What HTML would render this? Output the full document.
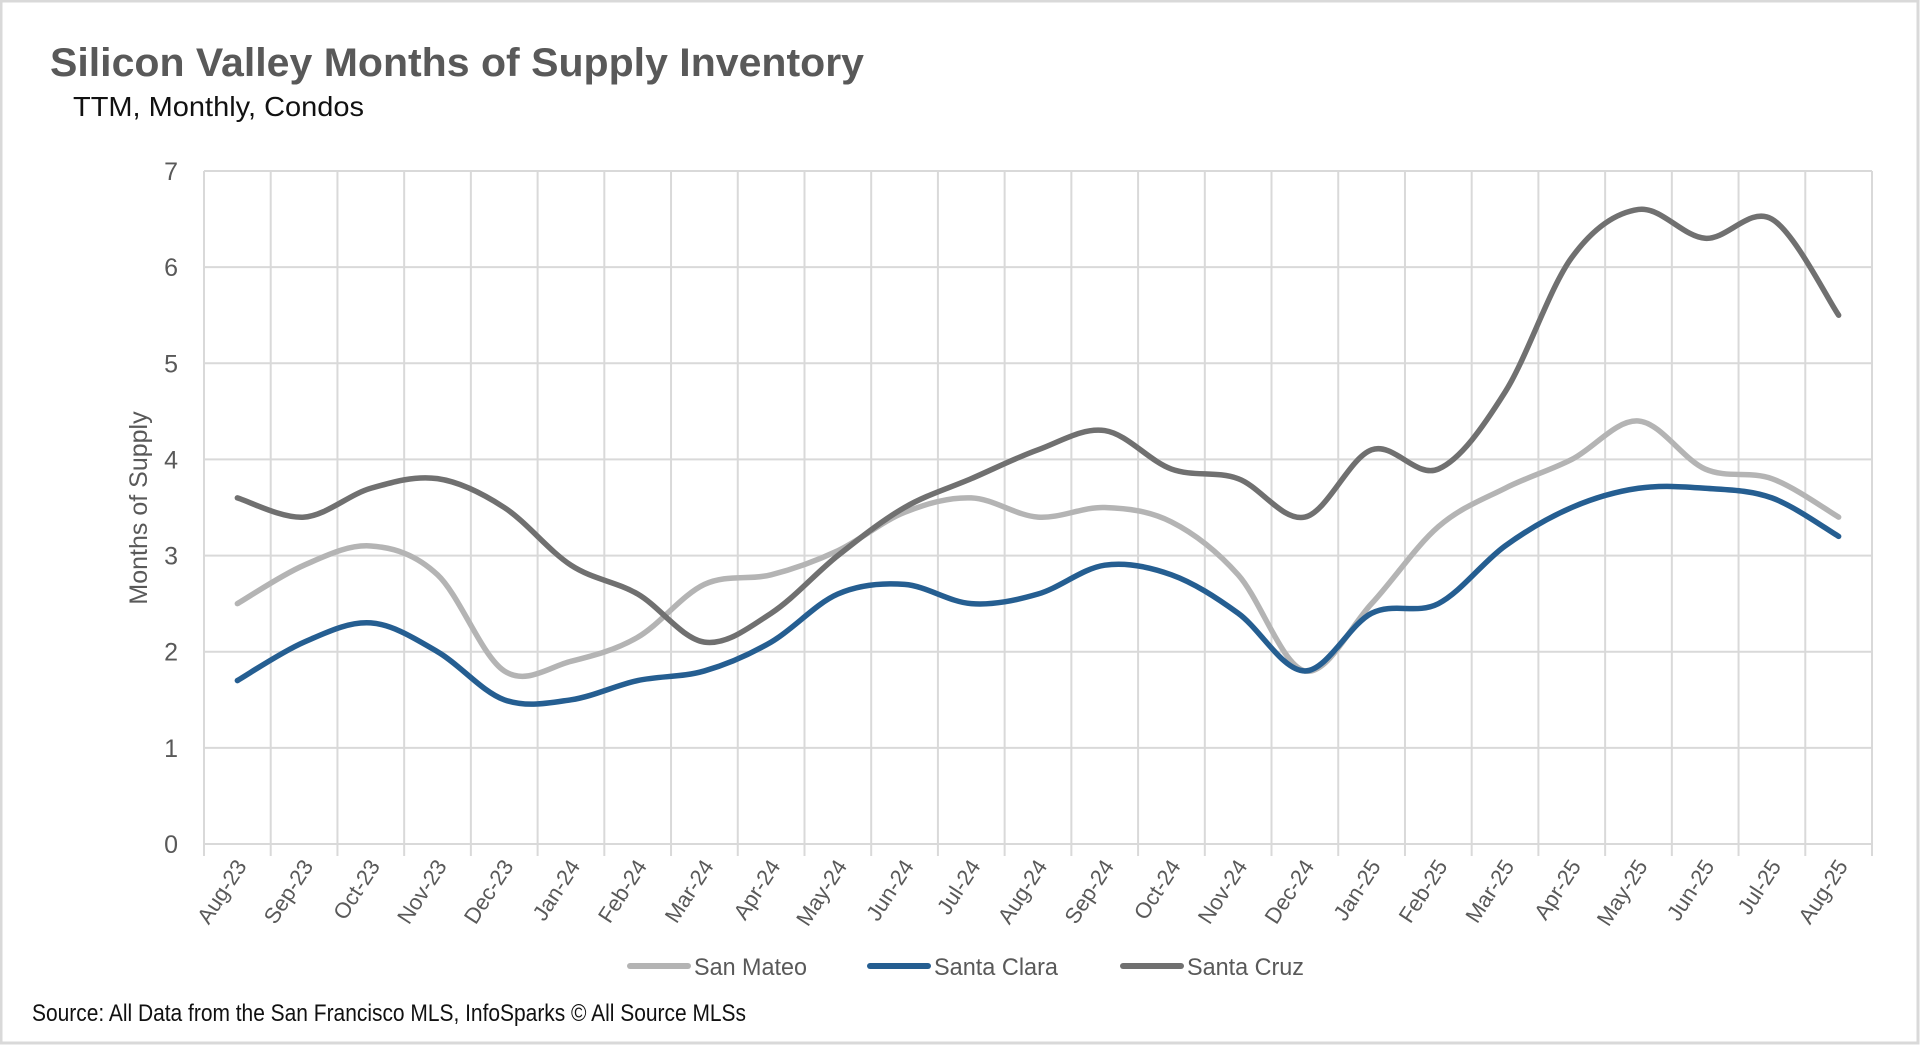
<!DOCTYPE html>
<html><head><meta charset="utf-8"><title>Silicon Valley Months of Supply Inventory</title>
<style>html,body{margin:0;padding:0;background:#fff;}svg{display:block;}</style></head>
<body>
<svg id="chart" width="1920" height="1046" viewBox="0 0 1920 1046" xmlns="http://www.w3.org/2000/svg" font-family="Liberation Sans, sans-serif">
<rect x="1" y="1" width="1917" height="1042" fill="#fff" stroke="#d9d9d9" stroke-width="3"/>
<text x="50" y="76" font-size="40" font-weight="bold" fill="#595959" textLength="814" lengthAdjust="spacingAndGlyphs">Silicon Valley Months of Supply Inventory</text>
<text x="73" y="116" font-size="28" fill="#111" textLength="291" lengthAdjust="spacingAndGlyphs">TTM, Monthly, Condos</text>
<g id="grid"></g>
<g id="yticks"></g>
<g id="xticks"></g>
<g id="series"></g>
<text x="0" y="0" font-size="25" fill="#595959" text-anchor="middle" transform="translate(147,508) rotate(-90)">Months of Supply</text>
<g>
  <g>
    <line x1="630" y1="966" x2="688" y2="966" stroke="#b4b4b4" stroke-width="6" stroke-linecap="round"/>
    <text x="694" y="975" font-size="24" fill="#595959" textLength="113" lengthAdjust="spacingAndGlyphs">San Mateo</text>
  </g>
  <g>
    <line x1="870" y1="966" x2="928" y2="966" stroke="#255e91" stroke-width="6" stroke-linecap="round"/>
    <text x="934" y="975" font-size="24" fill="#595959" textLength="124" lengthAdjust="spacingAndGlyphs">Santa Clara</text>
  </g>
  <g>
    <line x1="1123" y1="966" x2="1181" y2="966" stroke="#707070" stroke-width="6" stroke-linecap="round"/>
    <text x="1187" y="975" font-size="24" fill="#595959" textLength="117" lengthAdjust="spacingAndGlyphs">Santa Cruz</text>
  </g>
</g>
<text x="32" y="1021" font-size="24" fill="#111" textLength="714" lengthAdjust="spacingAndGlyphs">Source: All Data from the San Francisco MLS, InfoSparks © All Source MLSs</text>
</svg>
<script>
const categories = ["Aug-23","Sep-23","Oct-23","Nov-23","Dec-23","Jan-24","Feb-24","Mar-24","Apr-24","May-24","Jun-24","Jul-24","Aug-24","Sep-24","Oct-24","Nov-24","Dec-24","Jan-25","Feb-25","Mar-25","Apr-25","May-25","Jun-25","Jul-25","Aug-25"];
const sanMateo = [2.5,2.9,3.1,2.8,1.8,1.9,2.15,2.7,2.8,3.05,3.45,3.6,3.4,3.5,3.35,2.8,1.8,2.5,3.3,3.7,4.0,4.4,3.9,3.8,3.4];
const santaClara = [1.7,2.1,2.3,2.0,1.5,1.5,1.7,1.8,2.1,2.6,2.7,2.5,2.6,2.9,2.8,2.4,1.8,2.4,2.5,3.1,3.5,3.7,3.7,3.6,3.2];
const santaCruz = [3.6,3.4,3.7,3.8,3.5,2.9,2.6,2.1,2.4,3.0,3.5,3.8,4.1,4.3,3.9,3.8,3.4,4.1,3.9,4.7,6.1,6.6,6.3,6.5,5.5];
const yTicks = [0,1,2,3,4,5,6,7];

const NS = "http://www.w3.org/2000/svg";
const L = 204, R = 1872, T = 171, B = 844, YMAX = 7;
const bw = (R - L) / categories.length;
const xPos = i => L + bw * (i + 0.5);
const yPos = v => B - (v / YMAX) * (B - T);
function mk(tag, attrs, parent) {
  const e = document.createElementNS(NS, tag);
  for (const k in attrs) e.setAttribute(k, attrs[k]);
  parent.appendChild(e);
  return e;
}
const grid = document.getElementById('grid');
const yt = document.getElementById('yticks');
const xt = document.getElementById('xticks');
const ser = document.getElementById('series');

yTicks.forEach(v => {
  const ln = mk('line', {x1: L, x2: R, y1: yPos(v), y2: yPos(v), stroke: '#d9d9d9', 'stroke-width': 2}, grid);
  
  
  const t = mk('text', {x: 178, y: yPos(v) + 9, 'font-size': 25, fill: '#595959', 'text-anchor': 'end'}, yt);
  t.textContent = v;
  
  
});
for (let i = 0; i <= categories.length; i++) {
  const x = L + bw * i;
  const ln = mk('line', {x1: x, x2: x, y1: T, y2: B + 12, stroke: '#d9d9d9', 'stroke-width': 2}, grid);
  
  
}
categories.forEach((c, i) => {
  const x = xPos(i) + 10, y = 866;
  const t = mk('text', {x: x, y: y, 'font-size': 22, fill: '#595959', 'text-anchor': 'end', transform: `rotate(-57 ${x} ${y})`}, xt);
  t.textContent = c;
  
  
});
function smoothPath(vals) {
  const p = vals.map((v, i) => [xPos(i), yPos(v)]);
  let d = `M${p[0][0]},${p[0][1]}`;
  for (let i = 0; i < p.length - 1; i++) {
    const p0 = p[i - 1] || p[i], p1 = p[i], p2 = p[i + 1], p3 = p[i + 2] || p2;
    const c1 = [p1[0] + (p2[0] - p0[0]) / 6, p1[1] + (p2[1] - p0[1]) / 6];
    const c2 = [p2[0] - (p3[0] - p1[0]) / 6, p2[1] - (p3[1] - p1[1]) / 6];
    d += ` C${c1[0]},${c1[1]} ${c2[0]},${c2[1]} ${p2[0]},${p2[1]}`;
  }
  return d;
}
[[sanMateo, '#b4b4b4', 'san-mateo-line'], [santaClara, '#255e91', 'santa-clara-line'], [santaCruz, '#707070', 'santa-cruz-line']].forEach(s => {
  const path = mk('path', {d: smoothPath(s[0]), fill: 'none', stroke: s[1], 'stroke-width': 5.5, 'stroke-linecap': 'round', 'stroke-linejoin': 'round'}, ser);
  
  
});
</script>
</body></html>
